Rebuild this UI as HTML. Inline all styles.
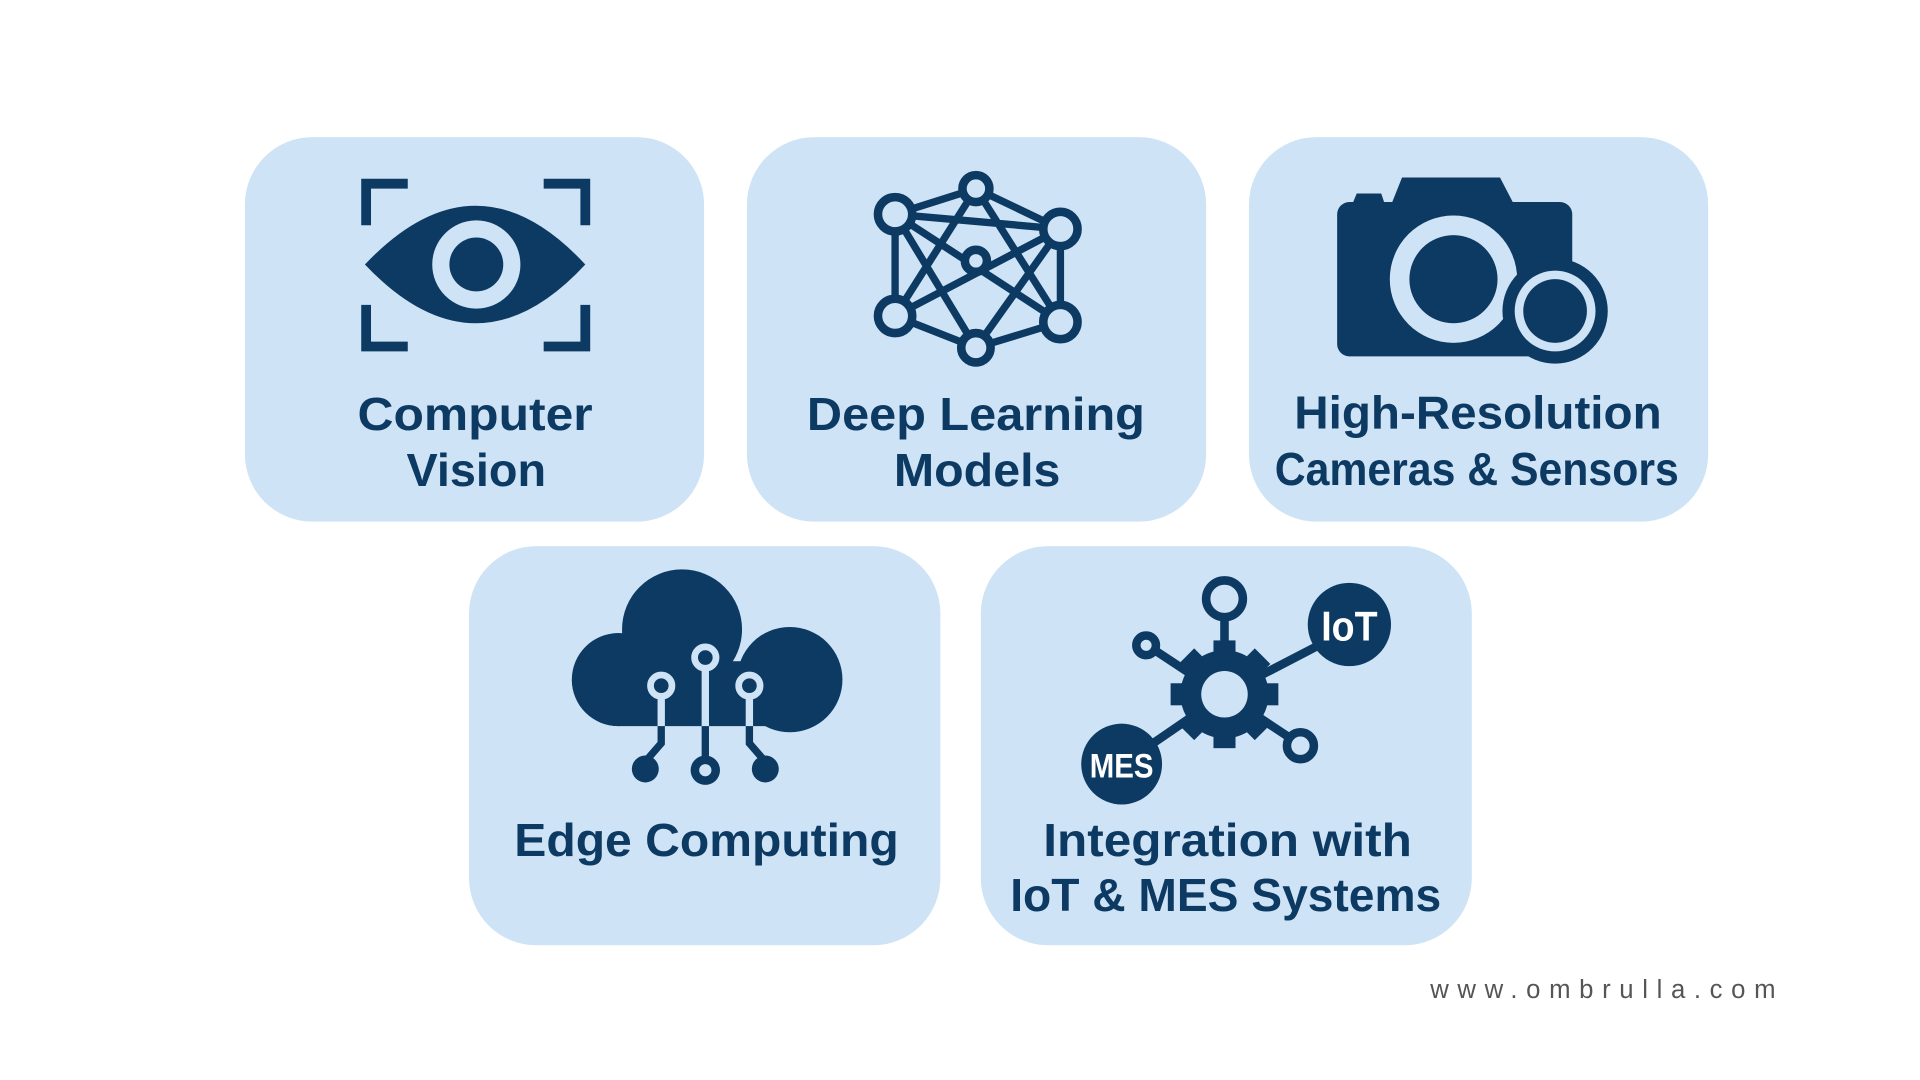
<!DOCTYPE html>
<html><head><meta charset="utf-8"><style>
html,body{margin:0;padding:0;background:#fff;width:1920px;height:1080px;overflow:hidden}
svg{display:block}
text{font-family:"Liberation Sans",sans-serif;font-weight:bold;fill:#0d3a62}
</style></head><body>
<svg width="1920" height="1080" viewBox="0 0 1568 882" xmlns="http://www.w3.org/2000/svg">
<g fill="#cfe3f6">
<rect x="200" y="112" width="375" height="314" rx="55"/>
<rect x="610" y="112" width="375" height="314" rx="55"/>
<rect x="1020" y="112" width="375" height="314" rx="55"/>
<rect x="383" y="446" width="385" height="326" rx="55"/>
<rect x="801" y="446" width="401" height="326" rx="55"/>
</g>
<!-- eye -->
<g stroke="#0d3a62" stroke-width="8" fill="none" stroke-linecap="square">
<path d="M299 180 V150 H329"/><path d="M448 150 H478 V180"/>
<path d="M299 253 V283 H329"/><path d="M448 283 H478 V253"/>
</g>
<path d="M298 216 Q389 120 478 216 Q389 312 298 216Z" fill="#0d3a62"/>
<circle cx="389" cy="216" r="36" fill="#cfe3f6"/>
<circle cx="389" cy="216" r="22" fill="#0d3a62"/>
<!-- network -->
<g stroke="#0d3a62" stroke-width="6" fill="none">
<path d="M797 154 L731 175 M797 154 L866 187 M797 154 L731 258 M797 154 L866 263 M731 175 L866 187 M731 175 L797 284 M866 187 L797 284 M731 175 L866 263 M866 187 L731 258 M731 258 L797 284 M866 263 L797 284 M731 175 L731 258 M866 187 L866 263"/>
</g>
<g fill="#cfe3f6" stroke="#0d3a62" stroke-width="7">
<circle cx="797" cy="154" r="11"/><circle cx="731" cy="175" r="14"/><circle cx="866" cy="187" r="14"/>
<circle cx="797" cy="213" r="9"/><circle cx="731" cy="258" r="14"/><circle cx="866" cy="263" r="14"/><circle cx="797" cy="284" r="12"/>
</g>
<!-- camera -->
<g fill="#0d3a62">
<rect x="1092" y="165" width="192" height="126" rx="10"/>
<path d="M1103 170 L1108 158 H1128 L1132 170Z"/>
<path d="M1135 170 L1145 145 H1225 L1238 170Z"/>
</g>
<circle cx="1187" cy="228" r="52" fill="#cfe3f6"/>
<circle cx="1187" cy="228" r="36" fill="#0d3a62"/>
<circle cx="1270" cy="254" r="43" fill="#0d3a62"/>
<circle cx="1270" cy="254" r="33" fill="#cfe3f6"/>
<circle cx="1270" cy="254" r="26" fill="#0d3a62"/>
<!-- cloud -->
<g fill="#0d3a62">
<circle cx="557" cy="514" r="49"/><circle cx="505" cy="555" r="38"/><circle cx="645" cy="555" r="43"/>
<rect x="505" y="540" width="140" height="53"/>
<path d="M505 593 A38 38 0 0 1 467 555 L505 555Z"/>
</g>
<g stroke="#cfe3f6" stroke-width="6" fill="none">
<path d="M576 548 V593 M540 571 V593 M612 571 V593"/>
</g>
<g stroke="#0d3a62" stroke-width="6" fill="none">
<path d="M576 593 V620 M540 593 V607 L527 622 M612 593 V607 L625 622"/>
</g>
<g fill="#cfe3f6" stroke="#cfe3f6"><circle cx="576" cy="537" r="11"/><circle cx="540" cy="560" r="11"/><circle cx="612" cy="560" r="11"/></g>
<g fill="#0d3a62"><circle cx="576" cy="537" r="6"/><circle cx="540" cy="560" r="6"/><circle cx="612" cy="560" r="6"/>
<circle cx="576" cy="629" r="12"/><circle cx="527" cy="628" r="11"/><circle cx="625" cy="628" r="11"/></g>
<circle cx="576" cy="629" r="5" fill="#cfe3f6"/>
<!-- iot -->
<g stroke="#0d3a62" stroke-width="7" fill="none">
<path d="M1000 505 V540 M943 531 L990 562 M1000 567 L1075 528 M1000 567 L1054 603 M1000 567 L930 615"/>
</g>
<g fill="#0d3a62">
<circle cx="1000" cy="567" r="36"/>
<g transform="translate(1000 567)">
<rect x="-9" y="-44" width="18" height="14"/><rect x="-9" y="30" width="18" height="14"/>
<rect x="-44" y="-9" width="14" height="18"/><rect x="30" y="-9" width="14" height="18"/>
<rect x="-9" y="-44" width="18" height="14" transform="rotate(45)"/><rect x="-9" y="-44" width="18" height="14" transform="rotate(135)"/>
<rect x="-9" y="-44" width="18" height="14" transform="rotate(225)"/><rect x="-9" y="-44" width="18" height="14" transform="rotate(315)"/>
</g>
<circle cx="1102" cy="510" r="34"/><circle cx="916" cy="624" r="33"/>
</g>
<circle cx="1000" cy="567" r="19" fill="#cfe3f6"/>
<g fill="#cfe3f6" stroke="#0d3a62" stroke-width="7">
<circle cx="1000" cy="489" r="15"/><circle cx="936" cy="527" r="8"/><circle cx="1062" cy="609" r="11"/>
</g>
<text x="1102" y="523" font-size="34" text-anchor="middle" style="fill:#fff" textLength="46" lengthAdjust="spacingAndGlyphs">IoT</text>
<text x="916" y="635" font-size="28" text-anchor="middle" style="fill:#fff" textLength="52" lengthAdjust="spacingAndGlyphs">MES</text>
<!-- labels -->
<g font-size="38">
<text x="292" y="351" textLength="192" lengthAdjust="spacingAndGlyphs">Computer</text>
<text x="332" y="397" textLength="114" lengthAdjust="spacingAndGlyphs">Vision</text>
<text x="659" y="351" textLength="276" lengthAdjust="spacingAndGlyphs">Deep Learning</text>
<text x="730" y="397" textLength="136" lengthAdjust="spacingAndGlyphs">Models</text>
<text x="1057" y="350" textLength="300" lengthAdjust="spacingAndGlyphs">High-Resolution</text>
<text x="1041" y="396" textLength="330" lengthAdjust="spacingAndGlyphs">Cameras &amp; Sensors</text>
<text x="420" y="699" textLength="314" lengthAdjust="spacingAndGlyphs">Edge Computing</text>
<text x="852" y="699" textLength="301" lengthAdjust="spacingAndGlyphs">Integration with</text>
<text x="825" y="744" textLength="352" lengthAdjust="spacingAndGlyphs">IoT &amp; MES Systems</text>
</g>
<text x="1168" y="815" font-size="21" style="font-weight:normal;fill:#555" textLength="282" lengthAdjust="spacing">www.ombrulla.com</text>
</svg>
</body></html>
